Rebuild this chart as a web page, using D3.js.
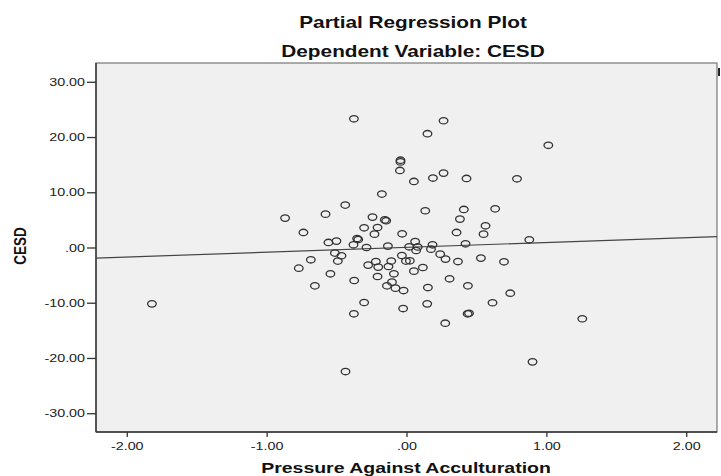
<!DOCTYPE html>
<html>
<head>
<meta charset="utf-8">
<script src="https://cdn.jsdelivr.net/npm/d3@7"></script>
<style>
  html, body { margin: 0; padding: 0; background: #fff; }
  svg { display: block; font-family: "Liberation Sans", Arial, sans-serif; }
</style>
</head>
<body>
<div id="chart"></div>
<script>
// Partial regression residuals
const pressureValues = [
  -1.82, -0.376, -0.043, -0.043, -0.047, 0.053, -0.176, -0.438, -0.868, -0.579,
  -0.243, -0.155, -0.145, -0.303, -0.207, -0.229, -0.031, -0.737, -0.558, -0.501,
  -0.353, -0.345, -0.379, -0.286, -0.133, 0.019, 0.062, 0.265, 0.150, 1.014,
  0.189, 0.265, 0.429, 0.790, 0.134, 0.410, 0.634, 0.382, 0.565, 0.358,
  0.551, 0.878, 0.422, 0.186, 0.069, -0.512, -0.465, -0.491, -0.684, -0.770,
  -0.544, -0.655, -0.274, -0.219, -0.202, -0.129, -0.109, -0.033, -0.004, 0.024,
  -0.090, -0.207, -0.104, -0.140, -0.079, -0.021, 0.053, -0.374, -0.303, -0.376,
  -0.024, -0.436, 0.175, 0.241, 0.279, 0.368, 0.532, 0.697, 0.117, 0.308,
  0.153, 0.439, 0.742, 0.148, 0.615, 0.437, 0.447, 0.277, 1.257, 0.901,
  0.080
];
const cesdValues = [
  -10.2, 23.3, 15.8, 15.5, 13.95, 11.96, 9.67, 7.68, 5.32, 6.04,
  5.5, 5.0, 4.85, 3.57, 3.62, 2.42, 2.48, 2.72, 0.91, 1.16,
  1.63, 1.45, 0.49, 0.0, 0.25, 0.13, 1.09, 22.95, 20.6, 18.5,
  12.57, 13.47, 12.5, 12.44, 6.65, 6.89, 7.0, 5.14, 3.93, 2.72,
  2.42, 1.39, 0.67, 0.49, -0.54, -1.01, -1.5, -2.46, -2.23, -3.74,
  -4.76, -6.94, -3.19, -2.53, -3.55, -3.44, -2.46, -1.45, -2.46, -2.41,
  -4.76, -5.25, -6.27, -6.94, -7.36, -7.79, -4.28, -5.97, -9.96, -12.0,
  -11.05, -22.46, -0.3, -1.2, -2.1, -2.54, -1.92, -2.59, -3.62, -5.67,
  -7.25, -6.94, -8.27, -10.2, -10.0, -12.0, -11.9, -13.7, -12.9, -20.7,
  0.1
];
const xTicks = [-2, -1, 0, 1, 2];
const yTicks = [-30, -20, -10, 0, 10, 20, 30];
const xDomain = [-2.22, 2.22];
const yDomain = [-33.4, 33.4];
// fit line
const lineSlope = 0.88;
const lineIntercept = 0.03;

const width = 721, height = 476;
const margin = { top: 63, right: 4, bottom: 44, left: 96 };
const pw = width - margin.left - margin.right;
const ph = height - margin.top - margin.bottom;
const stretch = 1.3; // the original picture is widened

// SPSS style labels: ".00", "-10.00"
const fmt = d => {
  let s = d3.format(".2f")(Math.abs(d));
  if (Math.abs(d) < 1) s = s.replace(/^0/, "");
  return (d < 0 ? "-" : "") + s;
};

const svg = d3.select("#chart").append("svg")
  .attr("width", width)
  .attr("height", height);

// Titles
svg.append("text")
  .attr("transform", `translate(413,27.5) scale(${stretch},1)`)
  .attr("text-anchor", "middle")
  .attr("font-size", 16).attr("font-weight", "bold").attr("fill", "#111")
  .text("Partial Regression Plot");
svg.append("text")
  .attr("transform", `translate(413,57) scale(${stretch},1)`)
  .attr("text-anchor", "middle")
  .attr("font-size", 16).attr("font-weight", "bold").attr("fill", "#111")
  .text("Dependent Variable: CESD");

const g = svg.append("g")
  .attr("transform", `translate(${margin.left},${margin.top})`);

const x = d3.scaleLinear().domain(xDomain).range([0, pw]);
const y = d3.scaleLinear().domain(yDomain).range([ph, 0]);

// Plot background
g.append("rect")
  .attr("width", pw).attr("height", ph)
  .attr("fill", "#f0f0f0")
  .attr("stroke", "#777").attr("stroke-width", 1.2);

// Y axis
const yAxis = g.append("g")
  .call(d3.axisLeft(y).tickValues(yTicks).tickFormat(fmt).tickSize(9).tickPadding(2));
yAxis.select(".domain").remove();
yAxis.selectAll("line").attr("stroke", "#333").attr("stroke-width", 1.3);
yAxis.selectAll("text")
  .attr("x", -11 / stretch)
  .attr("transform", `scale(${stretch},1)`)
  .attr("font-size", 11).attr("fill", "#222")
  .attr("font-family", "Liberation Sans, Arial, sans-serif");

// X axis
const xAxis = g.append("g")
  .attr("transform", `translate(0,${ph})`)
  .call(d3.axisBottom(x).tickValues(xTicks).tickFormat(fmt).tickSize(5).tickPadding(5));
xAxis.select(".domain").remove();
xAxis.selectAll("line").attr("stroke", "#333").attr("stroke-width", 1.3);
xAxis.selectAll("text")
  .attr("transform", `scale(${stretch},1)`)
  .attr("font-size", 11).attr("fill", "#222")
  .attr("font-family", "Liberation Sans, Arial, sans-serif");

// left and bottom frame lines are darker
g.append("line")
  .attr("x1", 0).attr("x2", 0).attr("y1", 0).attr("y2", ph)
  .attr("stroke", "#333").attr("stroke-width", 1.4);
g.append("line")
  .attr("x1", 0).attr("x2", pw).attr("y1", ph).attr("y2", ph)
  .attr("stroke", "#333").attr("stroke-width", 1.4);

// Fit line
g.append("line")
  .attr("x1", x(xDomain[0])).attr("y1", y(lineIntercept + lineSlope * xDomain[0]))
  .attr("x2", x(xDomain[1])).attr("y2", y(lineIntercept + lineSlope * xDomain[1]))
  .attr("stroke", "#444").attr("stroke-width", 1.2);

// Points
g.append("g")
  .selectAll("ellipse")
  .data(d3.range(pressureValues.length))
  .join("ellipse")
  .attr("cx", i => x(pressureValues[i]))
  .attr("cy", i => y(cesdValues[i]))
  .attr("rx", 4.3)
  .attr("ry", 3.2)
  .attr("fill", "none")
  .attr("stroke", "#333")
  .attr("stroke-width", 1.3);

// Axis titles
svg.append("text")
  .attr("transform", `translate(406,473.3) scale(${stretch},1)`)
  .attr("text-anchor", "middle")
  .attr("font-size", 15).attr("font-weight", "bold").attr("fill", "#111")
  .text("Pressure Against Acculturation");
svg.append("text")
  .attr("transform", `translate(26,246) scale(1.25,1) rotate(-90)`)
  .attr("text-anchor", "middle")
  .attr("font-size", 13.5).attr("font-weight", "bold").attr("fill", "#111")
  .text("CESD");

// small dark mark right of the frame
svg.append("rect")
  .attr("x", 718).attr("y", 68).attr("width", 2).attr("height", 8)
  .attr("fill", "#222");
</script>
</body>
</html>
